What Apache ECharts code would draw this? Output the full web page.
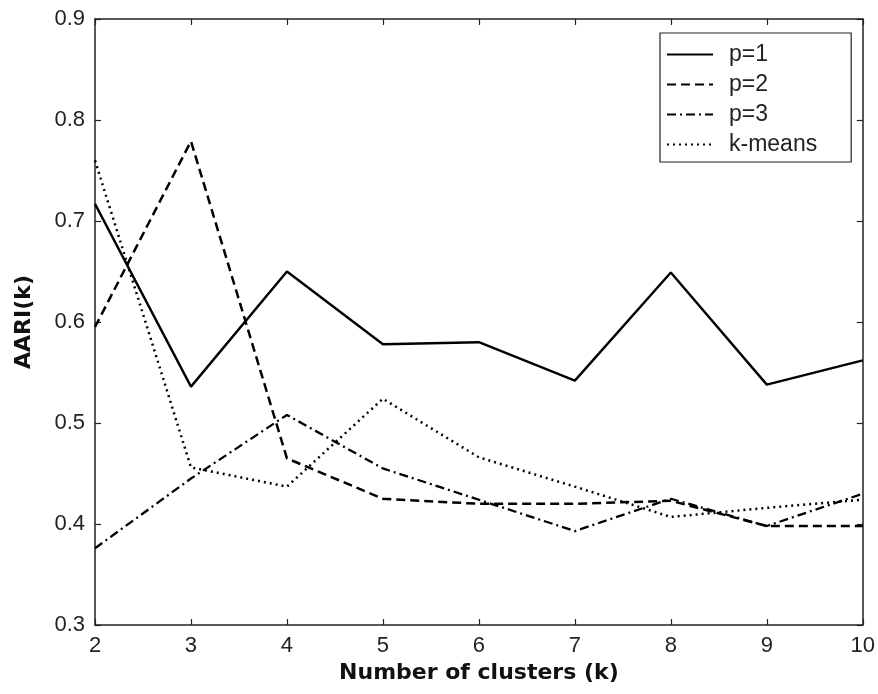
<!DOCTYPE html>
<html>
<head>
<meta charset="utf-8">
<script src="https://cdn.jsdelivr.net/npm/echarts@6/dist/echarts.min.js"></script>
<style>
html,body{margin:0;padding:0;background:#fff;}
#chart{width:878px;height:694px;}
</style>
</head>
<body>
<div id="chart"></div>
<script>
const clusters = [2, 3, 4, 5, 6, 7, 8, 9, 10];
const p1 = [0.717, 0.536, 0.650, 0.578, 0.580, 0.542, 0.649, 0.538, 0.562];
const p2 = [0.595, 0.779, 0.465, 0.425, 0.420, 0.420, 0.423, 0.398, 0.398];
const p3 = [0.376, 0.445, 0.508, 0.455, 0.424, 0.393, 0.425, 0.398, 0.430];
const kmeans = [0.760, 0.456, 0.437, 0.524, 0.466, 0.437, 0.407, 0.416, 0.424];
const seriesNames = ['p=1', 'p=2', 'p=3', 'k-means'];
const xTicks = {min: 2, max: 10, interval: 1};
const yTicks = {min: 0.3, max: 0.9, interval: 0.1};

const font = 'Liberation Sans, Arial, Helvetica, sans-serif';
const boldFont = 'DejaVu Sans, Verdana, sans-serif';
const pairs = arr => clusters.map((c, i) => [c, arr[i]]);
const styles = [
  {type: 'solid', width: 2.4},
  {type: [9, 5], width: 2.5},
  {type: [9, 4, 2, 4], width: 2.3},
  {type: [2, 4], width: 2.5}
];
const data = [p1, p2, p3, kmeans];

const chart = echarts.init(document.getElementById('chart'), null, {renderer: 'canvas'});
const axisLine = {show: true, lineStyle: {color: '#222', width: 1.5}};
const tick = {show: true, inside: true, length: 6, lineStyle: {color: '#222', width: 1.2}};
chart.setOption({
  backgroundColor: '#fff',
  animation: false,
  grid: {left: 95, right: 15, top: 19, bottom: 69, containLabel: false},
  legend: {
    orient: 'vertical',
    left: 660, top: 33,
    data: seriesNames,
    itemWidth: 46, itemHeight: 14, itemGap: 7,
    backgroundColor: '#fff',
    borderColor: '#222', borderWidth: 1.2,
    padding: [10, 34, 6, 6],
    itemStyle: {opacity: 0},
    textStyle: {fontFamily: font, fontSize: 23, color: '#222', padding: [0, 0, 0, 11]}
  },
  xAxis: [{
    type: 'value', ...xTicks,
    name: 'Number of clusters (k)', nameLocation: 'middle', nameGap: 36,
    nameTextStyle: {fontFamily: boldFont, fontSize: 22, fontWeight: 'bold', color: '#111'},
    axisLine: axisLine,
    axisTick: tick,
    axisLabel: {fontFamily: font, fontSize: 22, color: '#222', margin: 10},
    splitLine: {show: false}
  }, {
    type: 'value', ...xTicks, position: 'top',
    axisLine: axisLine,
    axisTick: tick,
    axisLabel: {show: false},
    splitLine: {show: false}
  }],
  yAxis: [{
    type: 'value', ...yTicks,
    name: 'AARI(k)', nameLocation: 'middle', nameGap: 60,
    nameTextStyle: {fontFamily: boldFont, fontSize: 22, fontWeight: 'bold', color: '#111'},
    axisLine: axisLine,
    axisTick: tick,
    axisLabel: {fontFamily: font, fontSize: 22, color: '#222', margin: 10,
      formatter: v => v.toFixed(1)},
    splitLine: {show: false}
  }, {
    type: 'value', ...yTicks, position: 'right',
    axisLine: axisLine,
    axisTick: tick,
    axisLabel: {show: false},
    splitLine: {show: false}
  }],
  series: seriesNames.map((name, i) => ({
    name: name,
    type: 'line',
    xAxisIndex: 0, yAxisIndex: 0,
    data: pairs(data[i]),
    symbol: 'none',
    color: '#000',
    lineStyle: {color: '#000', width: styles[i].width, type: styles[i].type},
    z: 5
  }))
});
</script>
</body>
</html>
